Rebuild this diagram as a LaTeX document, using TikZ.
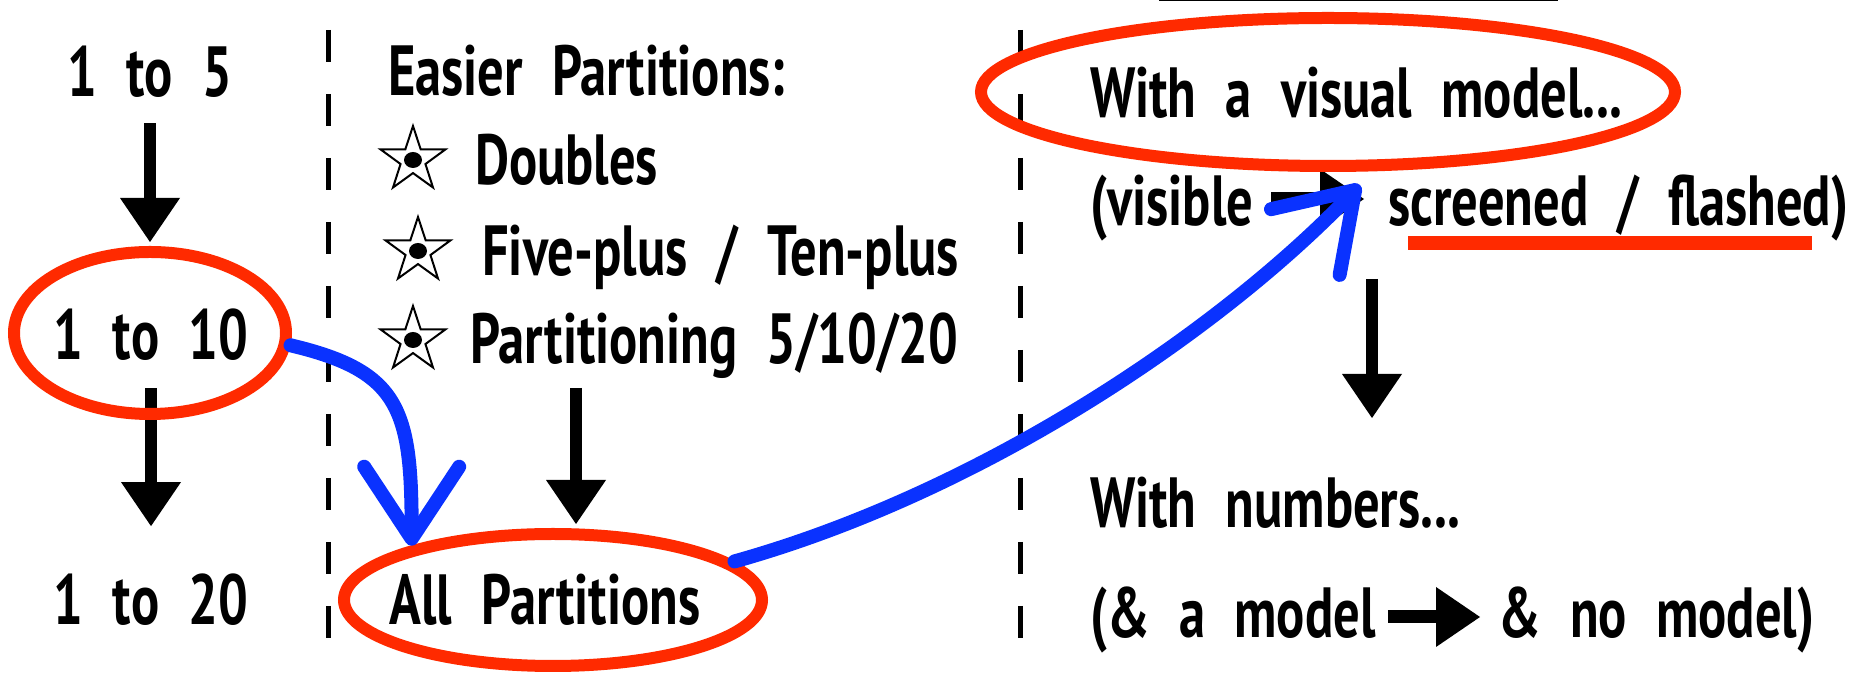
\documentclass[tikz,border=0pt]{standalone}
\usepackage{fontspec}
\setmainfont{PT Sans}[FakeStretch=0.74, WordSpace=2.2]
\usepackage{tikz}
\usetikzlibrary{arrows.meta, positioning, calc, shapes.geometric, backgrounds}
\definecolor{chalkred}{RGB}{255,42,0}
\definecolor{chalkblue}{RGB}{10,50,255}
\newcommand{\hand}{\fontsize{71}{80}\selectfont\bfseries}

\begin{document}
\begin{tikzpicture}[x=1pt, y=1pt,
  >={Triangle[width=60pt, length=44pt, line width=0pt]},
  lbl/.style={font=\hand, inner sep=0pt, anchor=base},
  lblw/.style={lbl, anchor=base west},
  ring/.style={draw=chalkred, ellipse, line width=12pt, inner sep=0pt},
  bigarrow/.style={->, line width=12pt},
  sep/.style={line width=5pt, dash pattern=on 32pt off 32pt},
  chalk/.style={draw=chalkblue, line width=14pt, line cap=round,
    -{Straight Barb[length=72pt, width=95pt, line cap=round, line join=round]}},
  starmark/.style={star, star points=5, star point ratio=2.6, draw,
    line width=2pt, minimum size=68pt, inner sep=0pt}
]
\useasboundingbox (0,0) rectangle (1858,676);
\draw[line width=3pt] (1159,676) -- (1558,676);

\draw[sep] (328,646) -- (328,38);
\draw[sep] (1020,646) -- (1020,38);

\node[lbl] (t5) at (150,579) {1 to 5};
\node[lbl] (t10) at (151,316) {1 to 10};
\node[lbl] (t20) at (151,51) {1 to 20};
\node[ring, minimum width=272pt, minimum height=162pt] (ring10) at (150,343) {};

\node[lblw] (easy) at (388,580) {Easier Partitions:};
\node[lblw] (dbl) at (475,491) {Doubles};
\node[lblw] (fiv) at (482,400) {Five-plus / Ten-plus};
\node[lblw] (prt) at (470,312) {Partitioning 5/10/20};
\node[starmark] (s1) at (413,516) {};
\node[starmark] (s2) at (418,425) {};
\node[starmark] (s3) at (413,336) {};
\foreach \s in {s1,s2,s3}
  \fill (\s.center) ellipse (9 and 8);
\node[lbl] (allT) at (545,51) {All Partitions};
\node[ring, minimum width=418pt, minimum height=132pt] (allP) at (553,76) {};

\node[lblw] (vm) at (1090,558) {With a visual model...};
\node[ring, minimum width=694pt, minimum height=148pt] (ringV) at (1328,584) {};
\node[lblw] (vis) at (1090,450) {(visible};
\node[lblw] (scr) at (1388,450) {screened / flashed)};
\node[lblw] (num) at (1090,148) {With numbers...};
\node[lblw] (am) at (1090,38) {(\& a model};
\node[lblw] (nm) at (1498,38) {\& no model)};
\draw[chalkred, line width=14pt] ($(scr.base west)+(20,-17)$) -- ($(scr.base east)+(-37,-17)$);

\begin{scope}[on background layer]
\draw[bigarrow, shorten <=25pt, shorten >=4pt] (t5) -- (ring10);
\draw[bigarrow, shorten <=27pt, shorten >=48pt] (t10) -- (t20);
\draw[bigarrow] ($(allP.north)+(23,140)$) -- ($(allP.north)+(23,4)$);
\draw[bigarrow] ($(scr.base west)+(-16,-53)$) -- ($(num.base west)+(282,110)$);
\draw[bigarrow, line width=13pt, shorten <=18pt, shorten >=24pt] ([yshift=27pt]vis.base east) -- ([yshift=27pt]scr.base west);
\draw[bigarrow, line width=13pt, shorten <=12pt, shorten >=18pt] ([yshift=21pt]am.base east) -- ([yshift=21pt]nm.base west);
\end{scope}

\coordinate (flash) at (1360,491);
\draw[chalk] (ring10.-5) .. controls +(110,-26) and +(0,136) .. (allP.159);
\draw[chalk] (allP.12) .. controls +(250,70) and +(-138,-144) .. (flash);
\end{tikzpicture}
\end{document}
